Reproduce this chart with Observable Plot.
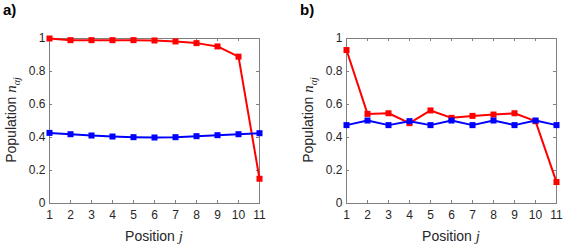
<!DOCTYPE html>
<html>
<head>
<meta charset="utf-8">
<script src="https://cdn.jsdelivr.net/npm/d3@7"></script>
<script src="https://cdn.jsdelivr.net/npm/@observablehq/plot@0.6"></script>
<style>
  html, body { margin: 0; padding: 0; background: #fff; }
  #root { position: relative; width: 582px; height: 248px; overflow: hidden; font-family: "Liberation Sans", Arial, Helvetica, sans-serif; color: #262626; }
  .panel { position: absolute; top: 0; width: 285px; height: 248px; }
  .tag { position: absolute; top: 1px; font-weight: bold; font-size: 15px; color: #000; }
  .ylab { position: absolute; left: 12px; top: 120px; transform: translate(-50%, -50%) rotate(-90deg); white-space: nowrap; font-size: 14px; color: #262626; }
  .xlab { position: absolute; top: 236px; transform: translate(-50%, -50%); white-space: nowrap; font-size: 14px; color: #262626; }
  .m { font-family: "Liberation Serif", "DejaVu Serif", serif; font-style: italic; font-size: 15px; }
  .m sub { font-size: 10px; }
</style>
</head>
<body>
<div id="root"></div>
<script>
// Data
const positions = [1, 2, 3, 4, 5, 6, 7, 8, 9, 10, 11];
const aRed  = [1.0, 0.99, 0.99, 0.99, 0.99, 0.988, 0.982, 0.972, 0.952, 0.89, 0.15];
const aBlue = [0.428, 0.42, 0.412, 0.406, 0.402, 0.400, 0.402, 0.408, 0.414, 0.42, 0.426];
const bRed  = [0.93, 0.543, 0.547, 0.487, 0.564, 0.519, 0.531, 0.539, 0.547, 0.499, 0.13];
const bBlue = [0.475, 0.503, 0.475, 0.499, 0.475, 0.503, 0.475, 0.503, 0.475, 0.503, 0.475];
const xTicks = [1, 2, 3, 4, 5, 6, 7, 8, 9, 10, 11];
const yTicks = [0, 0.2, 0.4, 0.6, 0.8, 1];
const panelTags = ["a)", "b)"];

const W = 285, H = 248, ML = 49, MR = 26, MT = 38, MB = 45;
const fw = W - ML - MR, fh = H - MT - MB, tk = 3;
const axisColor = "#808080";
const textColor = "#262626";

function makePanel(red, blue) {
  const toRows = arr => positions.map((p, i) => ({x: p, y: arr[i]}));
  const r = toRows(red), b = toRows(blue);
  return Plot.plot({
    width: W, height: H,
    marginLeft: ML, marginRight: MR, marginTop: MT, marginBottom: MB,
    style: {fontFamily: '"Liberation Sans", Arial, sans-serif', fontSize: "12px", color: textColor, background: "transparent"},
    x: {domain: [1, 11]},
    y: {domain: [0, 1]},
    marks: [
      Plot.frame({stroke: axisColor}),
      Plot.tickX(xTicks, {x: d => d, insetTop: fh - tk, stroke: axisColor}),
      Plot.tickX(xTicks, {x: d => d, insetBottom: fh - tk, stroke: axisColor}),
      Plot.tickY(yTicks, {y: d => d, insetRight: fw - tk, stroke: axisColor}),
      Plot.tickY(yTicks, {y: d => d, insetLeft: fw - tk, stroke: axisColor}),
      Plot.axisX({ticks: xTicks, tickSize: 0, tickPadding: 7, label: null, tickFormat: d => String(d), fill: textColor}),
      Plot.axisY({ticks: yTicks, tickSize: 0, tickPadding: 4, label: null, tickFormat: d => String(d), fill: textColor}),
      Plot.line(r, {x: "x", y: "y", stroke: "#ff0000", strokeWidth: 2}),
      Plot.dot(r, {x: "x", y: "y", symbol: "square", fill: "#ff0000", r: 3.4}),
      Plot.line(b, {x: "x", y: "y", stroke: "#0000ff", strokeWidth: 2}),
      Plot.dot(b, {x: "x", y: "y", symbol: "square", fill: "#0000ff", r: 3.4})
    ]
  });
}

const root = document.getElementById("root");
[[aRed, aBlue, 0], [bRed, bBlue, 297]].forEach(([red, blue, left], i) => {
  const div = document.createElement("div");
  div.className = "panel";
  div.style.left = left + "px";
  div.appendChild(makePanel(red, blue));
  const tag = document.createElement("div");
  tag.className = "tag";
  tag.style.left = "3px";
  tag.textContent = panelTags[i];
  div.appendChild(tag);
  const yl = document.createElement("div");
  yl.className = "ylab";
  yl.innerHTML = 'Population <span class="m">n<sub>αj</sub></span>';
  div.appendChild(yl);
  const xl = document.createElement("div");
  xl.className = "xlab";
  xl.style.left = (ML + fw / 2) + "px";
  xl.innerHTML = 'Position <span class="m">j</span>';
  div.appendChild(xl);
  root.appendChild(div);
});
</script>
</body>
</html>
